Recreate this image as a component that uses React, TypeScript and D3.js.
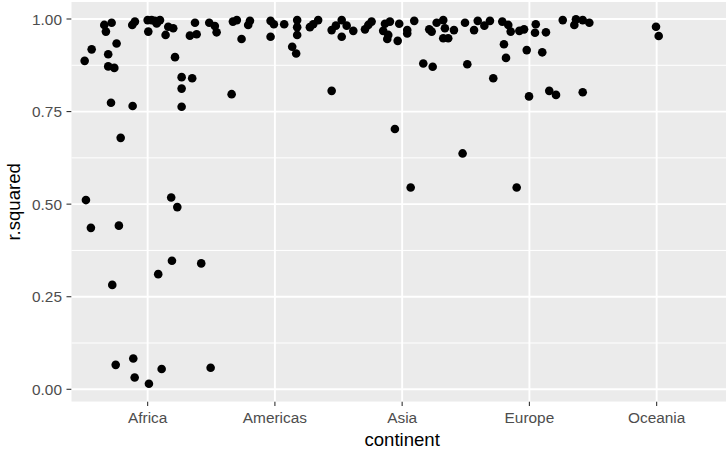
import React from "react";
import * as d3 from "d3";

const continents = ["Africa", "Americas", "Asia", "Europe", "Oceania"];
const yTicks = [0, 0.25, 0.5, 0.75, 1];
const yMinor = [0.125, 0.375, 0.625, 0.875];

// jitter offsets (category units) and r.squared values
const africaJitter = [-0.495, -0.44, -0.341, -0.283, -0.328, -0.31, -0.244, -0.31, -0.262, -0.288, -0.212, -0.118, -0.121, -0.1, 0.005, 0.0, 0.031, 0.057, 0.097, 0.071, 0.141, 0.162, 0.201, 0.215, 0.267, 0.267, 0.267, 0.35, 0.332, 0.385, 0.372, 0.484, -0.485, -0.446, -0.226, -0.278, 0.185, 0.233, 0.191, 0.083, 0.421, -0.251, -0.113, -0.102, 0.01, 0.11, 0.495, 0.08];
const africaR2 = [0.887, 0.918, 0.984, 0.99, 0.966, 0.905, 0.934, 0.872, 0.868, 0.774, 0.679, 0.765, 0.984, 0.993, 0.966, 0.997, 0.997, 0.995, 0.997, 0.988, 0.957, 0.979, 0.975, 0.897, 0.843, 0.812, 0.763, 0.84, 0.955, 0.959, 0.99, 0.99, 0.511, 0.436, 0.442, 0.282, 0.518, 0.492, 0.347, 0.311, 0.34, 0.066, 0.083, 0.032, 0.015, 0.055, 0.058, 0.993];

const americasJitter = [-0.472, -0.458, -0.33, -0.299, -0.196, -0.21, -0.262, -0.34, -0.034, -0.008, -0.034, 0.073, 0.175, 0.175, 0.175, 0.136, 0.167, 0.275, 0.301, 0.34, 0.446, 0.446, 0.479];
const americasR2 = [0.981, 0.964, 0.993, 0.997, 0.995, 0.984, 0.946, 0.797, 0.995, 0.986, 0.952, 0.986, 0.997, 0.978, 0.957, 0.925, 0.907, 0.978, 0.986, 0.997, 0.806, 0.97, 0.982];

const asiaJitter = [-0.475, -0.436, -0.384, -0.475, -0.292, -0.24, -0.266, -0.135, -0.096, -0.149, -0.109, -0.117, -0.023, -0.035, -0.057, 0.04, 0.04, 0.095, 0.166, 0.24, 0.213, 0.232, 0.271, 0.323, 0.336, 0.323, 0.362, 0.067, 0.407, 0.475, 0.494];
const asiaR2 = [0.997, 0.982, 0.968, 0.952, 0.972, 0.993, 0.984, 0.987, 0.993, 0.968, 0.957, 0.946, 0.987, 0.941, 0.703, 0.97, 0.961, 0.995, 0.88, 0.871, 0.972, 0.966, 0.99, 0.997, 0.975, 0.948, 0.948, 0.545, 0.97, 0.637, 0.99];

const europeJitter = [-0.488, -0.435, -0.406, -0.354, -0.31, -0.284, -0.213, -0.166, -0.147, -0.2, -0.184, -0.079, -0.042, -0.021, -0.003, 0.05, 0.044, 0.13, 0.101, 0.156, 0.209, 0.262, 0.353, 0.366, 0.419, 0.471, 0.419, -0.1];
const europeR2 = [0.878, 0.97, 0.995, 0.982, 0.995, 0.84, 0.993, 0.984, 0.966, 0.932, 0.895, 0.968, 0.972, 0.916, 0.791, 0.986, 0.963, 0.964, 0.91, 0.806, 0.795, 0.997, 0.984, 0.999, 0.997, 0.99, 0.802, 0.545];

const oceaniaJitter = [-0.005, 0.016];
const oceaniaR2 = [0.979, 0.954];

const seriesJitter = [africaJitter, americasJitter, asiaJitter, europeJitter, oceaniaJitter];
const seriesR2 = [africaR2, americasR2, asiaR2, europeR2, oceaniaR2];

const W = 726;
const H = 453;
const panelLeft = 71.3;
const panelRight = 733;
const panelTop = 2;
const panelBottom = 401.7;
const font = "'Liberation Sans', Arial, Helvetica, sans-serif";

export default function App() {
  const x = d3.scaleLinear().domain([0.4, 5.6]).range([panelLeft, panelRight]);
  const y = d3.scaleLinear().domain([0, 1]).range([389.3, 19]);
  const fmt = d3.format(".2f");

  const points: { cx: number; cy: number; key: string }[] = [];
  seriesJitter.forEach((js, ci) => {
    js.forEach((j, i) => {
      points.push({ cx: x(ci + 1 + j), cy: y(seriesR2[ci][i]), key: `${ci}-${i}` });
    });
  });

  return (
    <svg width={W} height={H} style={{ position: "fixed", left: 0, top: 0, background: "#fff" }} fontFamily={font}>
      <defs>
        <clipPath id="panel">
          <rect x={panelLeft} y={panelTop} width={W - panelLeft} height={panelBottom - panelTop} />
        </clipPath>
      </defs>
      <rect x={panelLeft} y={panelTop} width={panelRight - panelLeft} height={panelBottom - panelTop} fill="#EBEBEB" clipPath="url(#panel)" />
      <g clipPath="url(#panel)">
        {yMinor.map((t) => (
          <line key={"mi" + t} x1={panelLeft} x2={panelRight} y1={y(t)} y2={y(t)} stroke="#fff" strokeWidth={1} />
        ))}
        {yTicks.map((t) => (
          <line key={"ma" + t} x1={panelLeft} x2={panelRight} y1={y(t)} y2={y(t)} stroke="#fff" strokeWidth={1.9} />
        ))}
        {continents.map((c, i) => (
          <line key={"v" + c} x1={x(i + 1)} x2={x(i + 1)} y1={panelTop} y2={panelBottom} stroke="#fff" strokeWidth={1.9} />
        ))}
        {points.map((p) => (
          <circle key={p.key} cx={p.cx} cy={p.cy} r={4.3} fill="#000" />
        ))}
      </g>
      {yTicks.map((t) => (
        <g key={"yt" + t}>
          <line x1={66.5} x2={panelLeft} y1={y(t)} y2={y(t)} stroke="#333" strokeWidth={1.1} />
          <text x={62} y={y(t)} dy="0.36em" textAnchor="end" fontSize={15.4} fill="#4D4D4D">
            {fmt(t)}
          </text>
        </g>
      ))}
      {continents.map((c, i) => (
        <g key={"xt" + c}>
          <line x1={x(i + 1)} x2={x(i + 1)} y1={panelBottom} y2={panelBottom + 4.3} stroke="#333" strokeWidth={1.1} />
          <text x={x(i + 1)} y={422.5} textAnchor="middle" fontSize={15.4} fill="#4D4D4D">
            {c}
          </text>
        </g>
      ))}
      <text x={(panelLeft + panelRight) / 2} y={445.5} textAnchor="middle" fontSize={18.6} fill="#000">
        continent
      </text>
      <text transform={`translate(19.5, ${(panelTop + panelBottom) / 2}) rotate(-90)`} textAnchor="middle" fontSize={18.6} fill="#000">
        r.squared
      </text>
    </svg>
  );
}
